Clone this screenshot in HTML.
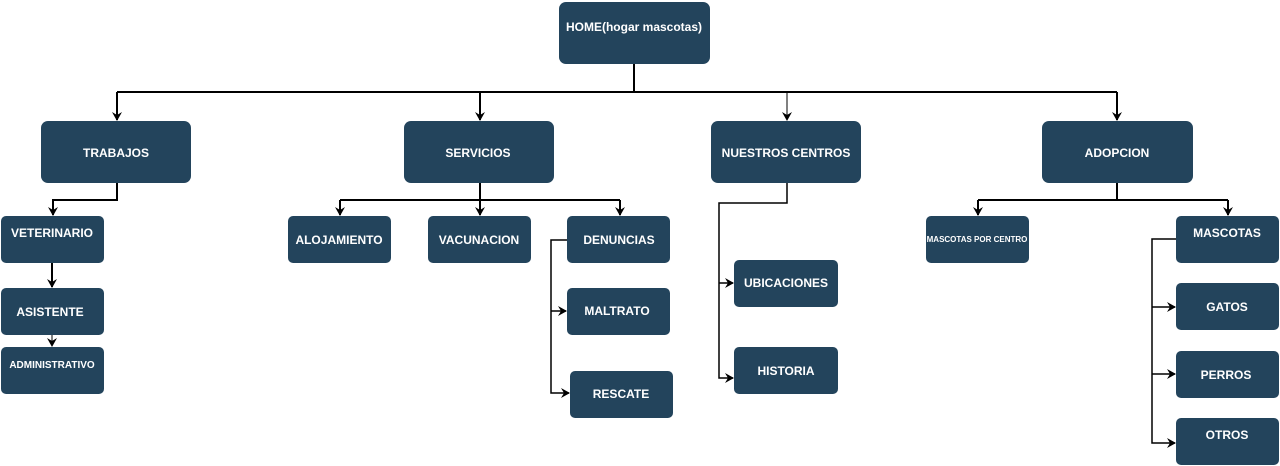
<!DOCTYPE html>
<html><head><meta charset="utf-8"><style>
html,body{margin:0;padding:0;background:#fff;width:1280px;height:466px;overflow:hidden}
text{font-family:"Liberation Sans Narrow","Liberation Sans",sans-serif;font-weight:bold;fill:#fff;text-anchor:middle;font-size:12px}
</style></head><body>
<svg width="1280" height="466" viewBox="0 0 1280 466" xmlns="http://www.w3.org/2000/svg">
<defs><marker id="a" markerWidth="10" markerHeight="10" refX="8" refY="5" orient="auto" markerUnits="userSpaceOnUse"><path d="M0,0 L9,5 L0,10 L3,5 z" fill="#000"/></marker></defs>
<g fill="none" stroke="#000" stroke-width="2">
<path d="M634,64 V92 M117,92 H1117"/>
<path d="M117,92 V120" marker-end="url(#a)"/>
<path d="M480,92 V120" marker-end="url(#a)"/>
<path d="M787,92 V120" stroke-width="1" marker-end="url(#a)"/>
<path d="M1117,92 V120" marker-end="url(#a)"/>
<path d="M117,183 V200 H53 V215" marker-end="url(#a)"/>
<path d="M52,263 V287" marker-end="url(#a)"/>
<path d="M52,335 V346" stroke-width="1" marker-end="url(#a)"/>
<path d="M480,183 V215" marker-end="url(#a)"/>
<path d="M340,200 H620 M340,200 V215" marker-end="url(#a)"/>
<path d="M620,200 V215" marker-end="url(#a)"/>
<path d="M567,240 H551 V393 H569" stroke-width="1.5" marker-end="url(#a)"/>
<path d="M551,311 H566" stroke-width="1.5" marker-end="url(#a)"/>
<path d="M787,183 V203 H719 V378 H733" stroke-width="1.5" marker-end="url(#a)"/>
<path d="M719,283 H733" stroke-width="1.5" marker-end="url(#a)"/>
<path d="M1117,183 V200 M978,200 H1228 M978,200 V215" marker-end="url(#a)"/>
<path d="M1228,200 V215" marker-end="url(#a)"/>
<path d="M1176,239 H1152 V443 H1175" stroke-width="1.5" marker-end="url(#a)"/>
<path d="M1152,307 H1175" stroke-width="1.5" marker-end="url(#a)"/>
<path d="M1152,374 H1175" stroke-width="1.5" marker-end="url(#a)"/>
</g>
<g fill="#23445c">
<rect x="559" y="2" width="151" height="62" rx="7"/>
<rect x="41" y="121" width="150" height="62" rx="7"/>
<rect x="404" y="121" width="150" height="62" rx="7"/>
<rect x="711" y="121" width="150" height="62" rx="7"/>
<rect x="1042" y="121" width="151" height="62" rx="7"/>
<rect x="1" y="216" width="103" height="47" rx="5"/>
<rect x="288" y="216" width="103" height="47" rx="5"/>
<rect x="428" y="216" width="103" height="47" rx="5"/>
<rect x="567" y="216" width="103" height="47" rx="5"/>
<rect x="1" y="288" width="103" height="47" rx="5"/>
<rect x="1" y="347" width="103" height="47" rx="5"/>
<rect x="567" y="288" width="103" height="47" rx="5"/>
<rect x="570" y="371" width="103" height="47" rx="5"/>
<rect x="734" y="260" width="104" height="47" rx="5"/>
<rect x="734" y="347" width="104" height="47" rx="5"/>
<rect x="926" y="216" width="103" height="47" rx="5"/>
<rect x="1176" y="216" width="103" height="47" rx="5"/>
<rect x="1176" y="283" width="103" height="47" rx="5"/>
<rect x="1176" y="351" width="103" height="47" rx="5"/>
<rect x="1176" y="418" width="103" height="47" rx="5"/>
</g>
<text x="634" y="31">HOME(hogar  mascotas)</text>
<text x="116" y="157">TRABAJOS</text>
<text x="478" y="157">SERVICIOS</text>
<text x="786" y="157">NUESTROS CENTROS</text>
<text x="1117" y="157">ADOPCION</text>
<text x="52" y="237">VETERINARIO</text>
<text x="339" y="244">ALOJAMIENTO</text>
<text x="479" y="244">VACUNACION</text>
<text x="619" y="244">DENUNCIAS</text>
<text x="50" y="316">ASISTENTE</text>
<text x="52" y="368" style="font-size:10px">ADMINISTRATIVO</text>
<text x="617" y="315">MALTRATO</text>
<text x="621" y="398">RESCATE</text>
<text x="786" y="287">UBICACIONES</text>
<text x="786" y="375">HISTORIA</text>
<text x="977" y="242" style="font-size:8px">MASCOTAS POR CENTRO</text>
<text x="1227" y="237">MASCOTAS</text>
<text x="1227" y="311">GATOS</text>
<text x="1226" y="379">PERROS</text>
<text x="1227" y="439">OTROS</text>
</svg>
</body></html>
